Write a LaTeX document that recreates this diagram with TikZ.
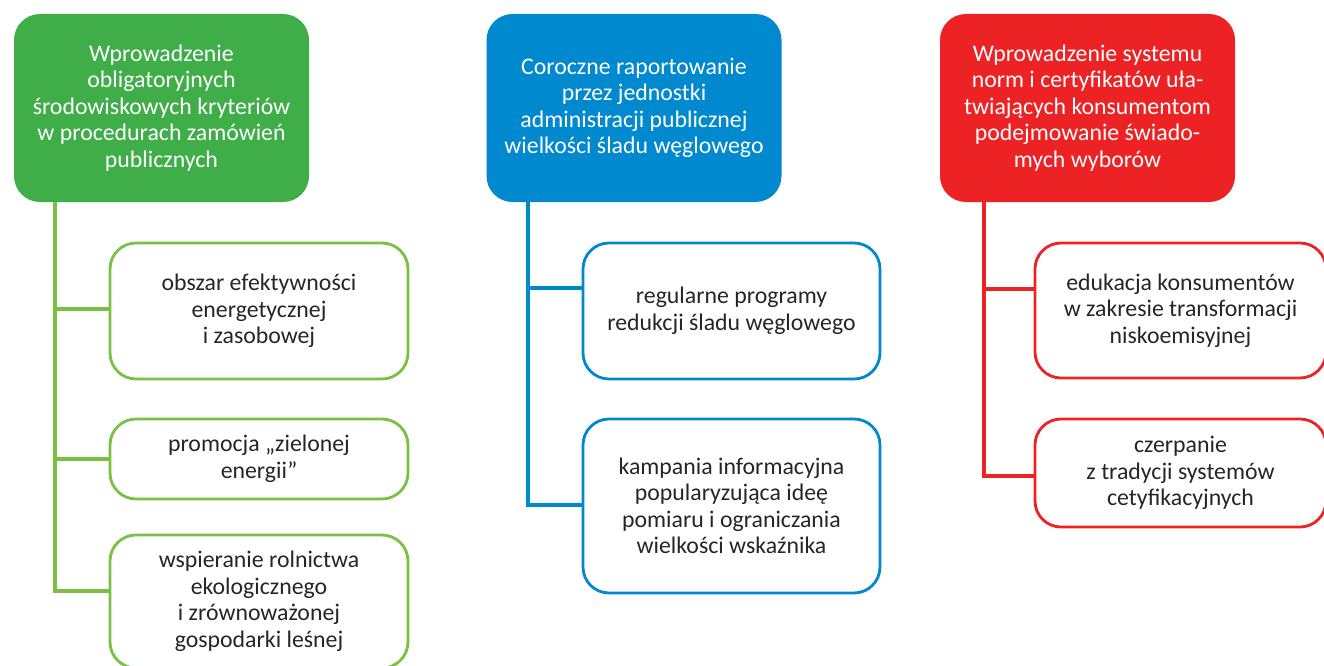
\documentclass[tikz,border=0pt]{standalone}
\usepackage{fontspec}
\setmainfont{Carlito}
\usepackage{tikz}
\definecolor{greencolor}{HTML}{3FAE49}
\definecolor{greenline}{HTML}{7AC143}
\definecolor{bluecolor}{HTML}{0089CF}
\definecolor{redcolor}{HTML}{ED2224}
\definecolor{textcolor}{HTML}{262626}

\begin{document}
\begin{tikzpicture}[x=1pt, y=-1pt,
  head/.style={rounded corners=26pt, minimum width=295pt, minimum height=188pt,
    inner sep=0pt, align=center, text=white, font=\fontsize{23.8}{26.5}\selectfont},
  item/.style={draw, line width=2.8pt, rounded corners=26pt, fill=white,
    inner sep=0pt, align=center, text=textcolor, font=\fontsize{23.8}{26.5}\selectfont},
  link/.style={line width=3.1pt}]
  \useasboundingbox (0,0) rectangle (1324,666);
  % Green column
  \node[head, fill=greencolor] (g0) at (161.5,108)
    {Wprowadzenie\\obligatoryjnych\\środowiskowych kryteriów\\w procedurach zamówień\\publicznych};
  \node[item, draw=greenline, minimum width=298pt, minimum height=136pt] (g1) at (259,311)
    {obszar efektywności\\energetycznej\\i zasobowej};
  \node[item, draw=greenline, minimum width=298pt, minimum height=80pt] (g2) at (259,459)
    {promocja „zielonej\\energii”};
  \node[item, draw=greenline, minimum width=298pt, minimum height=133pt] (g3) at (259,601.5)
    {wspieranie rolnictwa\\ekologicznego\\i zrównoważonej\\gospodarki leśnej};
  \coordinate (gtop) at (55,202);
  \draw[link, greenline] (gtop) |- ([yshift=10.5pt]g3.west);
  \draw[link, greenline] ([yshift=2pt]g1.west -| gtop) -- ([yshift=2pt]g1.west);
  \draw[link, greenline] (g2.west -| gtop) -- (g2.west);
  % Blue column
  \node[head, fill=bluecolor] (b0) at (634,108)
    {Coroczne raportowanie\\przez jednostki\\administracji publicznej\\wielkości śladu węglowego};
  \node[item, draw=bluecolor, minimum width=297pt, minimum height=136pt] (b1) at (731.5,311)
    {regularne programy\\redukcji śladu węglowego};
  \node[item, draw=bluecolor, minimum width=297pt, minimum height=174pt] (b2) at (731.5,506)
    {kampania informacyjna\\popularyzująca ideę\\pomiaru i ograniczania\\wielkości wskaźnika};
  \coordinate (btop) at (528,202);
  \draw[link, bluecolor] (btop) |- ([yshift=1pt]b2.west);
  \draw[link, bluecolor] ([yshift=23pt]b1.west -| btop) -- ([yshift=23pt]b1.west);
  % Red column
  \node[head, fill=redcolor] (r0) at (1087.5,108)
    {Wprowadzenie systemu\\norm i certyfikatów uła-\\twiających konsumentom\\podejmowanie świado-\\mych wyborów};
  \node[item, draw=redcolor, minimum width=291pt, minimum height=135pt] (r1) at (1180.5,310.5)
    {edukacja konsumentów\\w zakresie transformacji\\niskoemisyjnej};
  \node[item, draw=redcolor, minimum width=291pt, minimum height=108pt] (r2) at (1180.5,473)
    {czerpanie\\z tradycji systemów\\cetyfikacyjnych};
  \coordinate (rtop) at (984,202);
  \draw[link, redcolor] (rtop) |- ([yshift=-3pt]r2.west);
  \draw[link, redcolor] ([yshift=21.5pt]r1.west -| rtop) -- ([yshift=21.5pt]r1.west);
\end{tikzpicture}
\end{document}
